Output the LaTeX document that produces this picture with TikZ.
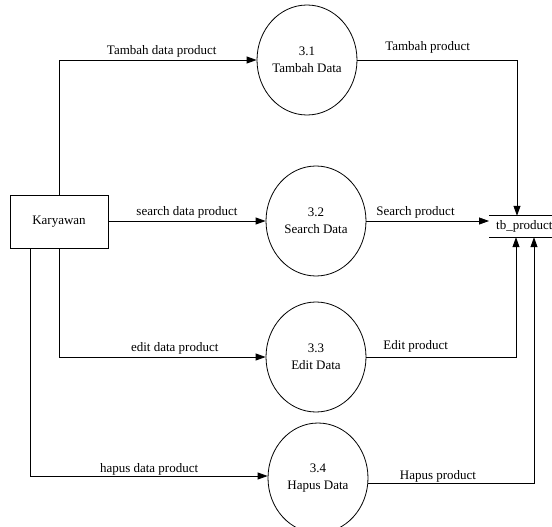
\documentclass[tikz,border=0pt]{standalone}
\usepackage{fontspec}
\setmainfont{Liberation Serif}
\usetikzlibrary{arrows.meta,positioning,calc,shapes.geometric}

\tikzset{
    flow/.style={line width=0.8pt, -{Triangle[length=10pt,width=7pt]}},
    proc/.style={draw, line width=0.8pt, ellipse, minimum width=100pt, minimum height=110pt, inner sep=0pt, align=center},
    ent/.style={draw, line width=0.8pt, rectangle, minimum width=98pt, minimum height=53pt},
    lbl/.style={above, inner sep=2pt}
}

\begin{document}
\begin{tikzpicture}[x=1pt, y=-1pt, font=\fontsize{13}{17}\selectfont]
    \useasboundingbox (0,0) rectangle (552,527);

    % Nodes
    \node[ent] (kary) at (59,221.5) {Karyawan};

    \node[proc] (p31) at (307,60) {3.1\\Tambah Data};
    \node[proc] (p32) at (316,221) {3.2\\Search Data};
    \node[proc] (p33) at (316,357) {3.3\\Edit Data};
    \node[proc] (p34) at (318,478) {3.4\\Hapus Data};

    % Data store
    \node[anchor=west, minimum height=21pt, inner sep=0pt, inner xsep=7pt] (store) at (489,226.5) {tb\_product};
    \draw[line width=0.8pt] (store.north west) -- ++(70,0);
    \draw[line width=0.8pt] (store.south west) -- ++(70,0);

    % Edges: Karyawan -> processes
    \draw[flow] (kary.north) |- (p31.west) node[lbl, pos=0.76] {Tambah data product};
    \draw[flow] (kary.east |- p32) -- (p32.west) node[lbl, midway] {search data product};
    \draw[flow] (kary.south) |- (p33.west) node[lbl, pos=0.78] {edit data product};
    \draw[flow] ([xshift=21pt]kary.south west) |- ([yshift=2pt]p34.west) node[lbl, pos=0.75, inner sep=0.5pt] {hapus data product};

    % Edges: processes -> tb_product
    \draw[flow] (p31.east) -| ([xshift=28pt]store.north west) node[lbl, pos=0.22, yshift=4pt] {Tambah product};
    \draw[flow] (p32.east) -- (p32.east -| store.west) node[lbl, pos=0.4] {Search product};
    \draw[flow] (p33.east) -| ([xshift=27pt]store.south west) node[lbl, pos=0.165, yshift=2pt] {Edit product};
    \draw[flow] ([yshift=-5pt]p34.east) -| ([xshift=45pt]store.south west) node[lbl, pos=0.21, inner sep=0.5pt] {Hapus product};
\end{tikzpicture}
\end{document}
